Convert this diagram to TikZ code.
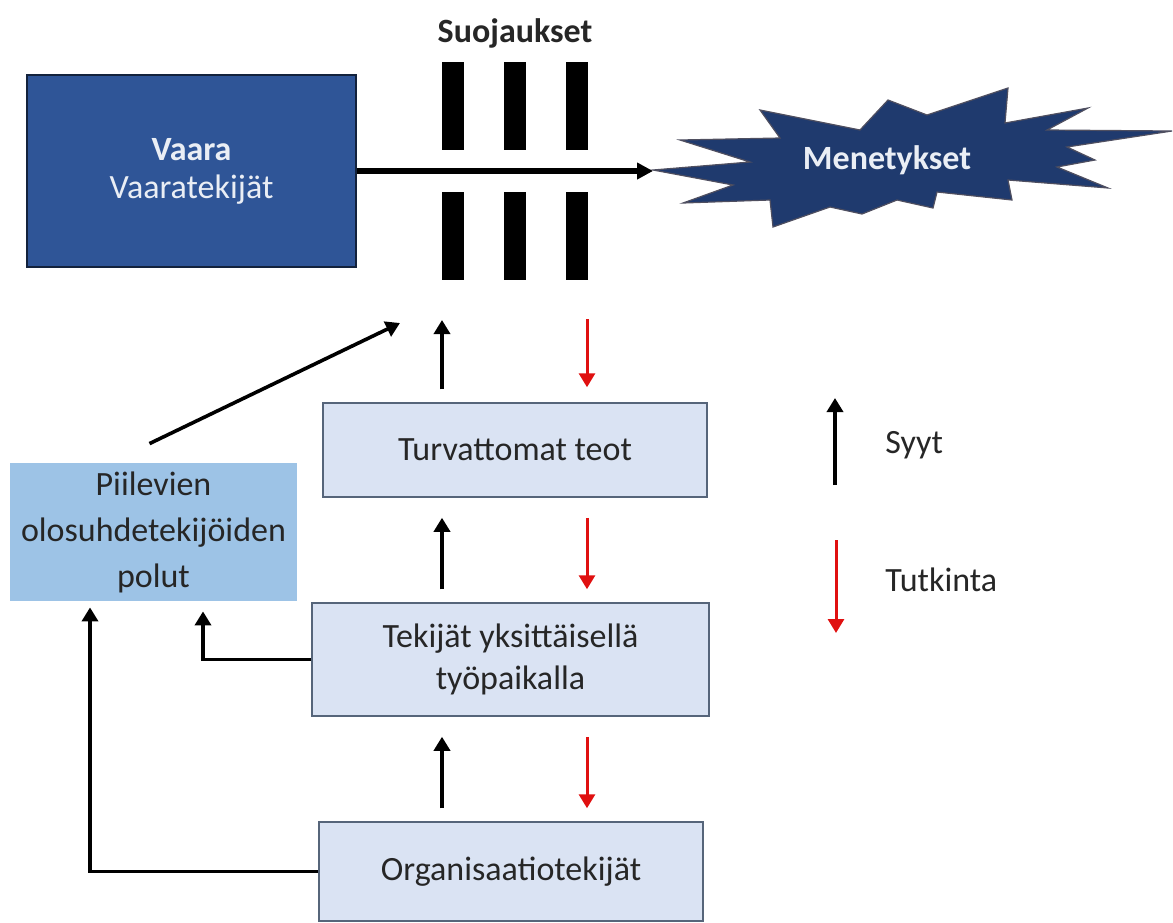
\documentclass[tikz,border=0pt]{standalone}
\usepackage{fontspec}
\setmainfont{Carlito}
\usepackage{xcolor}
\usetikzlibrary{arrows.meta, positioning, calc}
\definecolor{hazardblue}{HTML}{2F5597}
\definecolor{burstblue}{HTML}{1F3A6E}
\definecolor{boxfill}{HTML}{DAE3F3}
\definecolor{boxline}{HTML}{56657A}
\definecolor{pathfill}{HTML}{9DC3E6}
\definecolor{txt}{HTML}{262626}
\definecolor{invred}{HTML}{E01010}

\begin{document}
\begin{tikzpicture}[
    x=0.5pt, y=-0.5pt,
    font=\fontsize{17}{23}\selectfont,
    every node/.style={inner sep=0pt, text=txt},
    hazard/.style={draw=black!60!hazardblue, line width=0.6pt, fill=hazardblue,
                   minimum width=164.5pt, minimum height=96pt, align=center,
                   text=white!90!hazardblue, font=\fontsize{17}{19}\selectfont},
    factor/.style={draw=boxline, line width=0.75pt, fill=boxfill,
                   minimum width=192pt, align=center},
    latent/.style={fill=pathfill, minimum width=143.5pt, minimum height=69pt,
                   align=center},
    bar/.style={fill=black, minimum width=11pt, minimum height=44pt},
    cause/.style={-{Triangle[length=7pt,width=8pt]}, line width=1.8pt, draw=black},
    probe/.style={-{Triangle[length=7pt,width=8pt]}, line width=1.5pt, draw=invred},
    flow/.style={-{Triangle[length=8pt,width=8pt]}, line width=2.8pt, draw=black},
    burst/.style={fill=burstblue, draw=burstblue!70!brown, line width=0.6pt},
    gapup/.style={shorten <=6.5pt, shorten >=10pt},
    gapdown/.style={shorten <=10pt, shorten >=6.5pt},
    keylabel/.style={anchor=west}
  ]
  \useasboundingbox (0,0) rectangle (1173,922);

  % ===== HAZARD AND SHIELDS =====
  \node[hazard] (hazard) at (191.5,171) {\textbf{Vaara}\\Vaaratekijät};
  \node[font=\bfseries\fontsize{17}{20}\selectfont] (shields) at (515,33) {Suojaukset};
  \foreach \x [count=\i] in {453,515,577} {
    \node[bar] (top\i) at (\x,106) {};
    \node[bar] (bot\i) at (\x,236) {};
  }

  % ===== LOSSES (burst) =====
  \draw[burst] (653,170) -- (750,162) -- (680,140) -- (780,138) -- (760,110)
    -- (860,130) -- (888,100) -- (927,115) -- (1008,88) -- (1005,123)
    -- (1088,108) -- (1047,130) -- (1172,131) -- (1067,147) -- (1095,160)
    -- (1057,167) -- (1108,188) -- (1008,180) -- (1012,200) -- (937,192)
    -- (933,208) -- (897,200) -- (862,214) -- (830,207) -- (773,227)
    -- (770,200) -- (683,203) -- (733,185) -- cycle;
  \coordinate (losstip) at (653,171);
  \node[font=\bfseries\fontsize{17}{20}\selectfont, text=white!90!hazardblue]
    (loss) at (887,160) {Menetykset};
  \draw[flow] (hazard.east) -- (losstip);

  % ===== FACTOR CHAIN =====
  \node[factor, minimum height=47pt] (unsafe) at (515,450) {Turvattomat teot};
  \node[factor, minimum width=198.5pt, minimum height=56.5pt,
        font=\fontsize{17}{21}\selectfont]
    (workplace) at (510.5,659.5) {Tekijät yksittäisellä\\työpaikalla};
  \node[factor, minimum height=49.5pt] (org) at (511,871.5) {Organisaatiotekijät};
  \node[latent] (latent) at (153.5,532) {Piilevien\\olosuhdetekijöiden\\polut};

  % causes go up, investigation goes down
  \coordinate (causeline) at (442,0);
  \coordinate (probeline) at (587,0);
  \coordinate (causetop) at (442,320);
  \coordinate (probetop) at (587,319);
  \draw[cause, shorten <=6.5pt] (unsafe.north -| causeline) -- (causetop);
  \draw[probe, shorten >=7.5pt] (probetop) -- (unsafe.north -| probeline);
  \draw[cause, gapup] (workplace.north -| causeline) -- (unsafe.south -| causeline);
  \draw[probe, gapdown] (unsafe.south -| probeline) -- (workplace.north -| probeline);
  \draw[cause, gapup] (org.north -| causeline) -- (workplace.south -| causeline);
  \draw[probe, gapdown] (workplace.south -| probeline) -- (org.north -| probeline);

  % ===== LATENT PATHS =====
  \coordinate (tapwork) at (203,0);
  \coordinate (taporg) at (90,0);
  \coordinate (pathtop) at (400,323);
  \draw[cause, shorten >=5pt] (workplace.west) -| (latent.south -| tapwork);
  \draw[cause, shorten >=3pt] (org.west) -| (latent.south -| taporg);
  \draw[cause] ([xshift=-2pt, yshift=9.5pt]latent.north) -- (pathtop);

  % ===== LEGEND =====
  \node[keylabel] (syyt) at (885,445) {Syyt};
  \node[keylabel] (tutkinta) at (885,580) {Tutkinta};
  \coordinate (keyA) at (835,485);
  \coordinate (keyB) at (835,398);
  \coordinate (keyC) at (836,540);
  \coordinate (keyD) at (836,633);
  \draw[cause] (keyA) -- (keyB);
  \draw[probe] (keyC) -- (keyD);

\end{tikzpicture}
\end{document}
